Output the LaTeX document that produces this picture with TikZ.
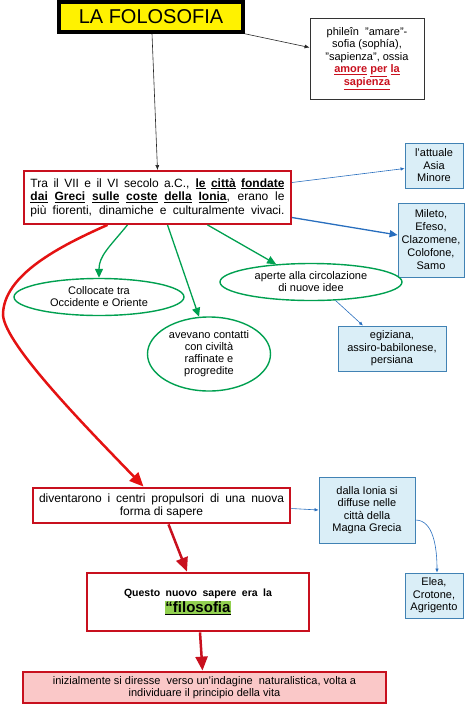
\documentclass[tikz,border=0pt]{standalone}
\usepackage{fontspec}
\setmainfont{Liberation Sans}
\usepackage{tikz}
\usetikzlibrary{arrows.meta,shapes.geometric}
\definecolor{boxred}{RGB}{200,16,30}
\definecolor{brightred}{RGB}{228,18,18}
\definecolor{boxblue}{RGB}{65,130,180}
\definecolor{arrblue}{RGB}{40,110,190}
\definecolor{lightblue}{RGB}{218,238,247}
\definecolor{arrgreen}{RGB}{0,160,80}
\definecolor{pinkfill}{RGB}{250,200,200}
\definecolor{hlgreen}{RGB}{146,208,80}
\newcommand{\ulb}[1]{\underline{\textbf{#1}}}

\begin{document}
\begin{tikzpicture}[x=1pt,y=-1pt,font=\fontsize{11}{12.5}\selectfont,
  redbox/.style={draw=boxred,line width=2.8pt,fill=white,inner sep=2pt,align=center},
  bluebox/.style={draw=boxblue,fill=lightblue,line width=0.8pt,inner sep=1pt,align=center},
  greenell/.style={ellipse,draw=arrgreen,line width=1.4pt,inner sep=0pt,align=center,font=\fontsize{11}{12}\selectfont},
  blkarr/.style={draw=black!85,line width=0.6pt,-{Latex[length=5pt,width=4pt]}},
  bluearr/.style={draw=arrblue,line width=0.6pt,-{Latex[length=4pt,width=3.5pt]}},
  greenarr/.style={draw=arrgreen,line width=1.3pt,-{Triangle[length=9pt,width=8pt]}},
  redarr/.style={draw=boxred,line width=2.5pt,-{Triangle[length=14pt,width=12pt]}}]
\useasboundingbox (0,0) rectangle (474,705);

\node[draw=black,line width=3.5pt,fill=yellow,minimum width=184pt,minimum height=30pt,font=\fontsize{20}{24}\selectfont] (title) at (151,17) {LA FOLOSOFIA};
\node[draw=black!80,line width=0.8pt,minimum width=114pt,minimum height=81pt,align=center] (phil) at (367,58.5)
  {phileîn\ \ "amare"-\\sofia (sophía),\\"sapienza", ossia\\\textcolor{boxred}{\textbf{\underline{amore} \underline{per} \underline{la}}}\\\textcolor{boxred}{\textbf{\underline{sapienza}}}};

\node[redbox,line width=1.8pt,minimum width=267pt,minimum height=53pt,align=left,font=\fontsize{12}{13.5}\selectfont] (main) at (157.5,197.5)
  {\makebox[254pt][s]{Tra il VII e il VI secolo a.C., \ulb{le} \ulb{città} \ulb{fondate}}\\
   \makebox[254pt][s]{\ulb{dai} \ulb{Greci} \ulb{sulle} \ulb{coste} \ulb{della} \ulb{Ionia}, erano le}\\
   \makebox[254pt][s]{più fiorenti, dinamiche e culturalmente vivaci.}};

\node[bluebox,minimum width=58pt,minimum height=45pt] (asia) at (434,165.5) {l'attuale\\Asia\\Minore};
\node[bluebox,minimum width=66pt,minimum height=74pt,font=\fontsize{11}{13}\selectfont] (mile) at (431,240) {Mileto,\\Efeso,\\Clazomene,\\Colofone,\\Samo};

\node[greenell,minimum width=170pt,minimum height=37pt] (coll) at (99,297) {Collocate tra\\Occidente e Oriente};
\node[greenell,minimum width=123pt,minimum height=74pt] (avev) at (209,354) {avevano contatti\\con civiltà\\raffinate e\\progredite};
\node[greenell,minimum width=182pt,minimum height=37pt] (aper) at (311,282) {aperte alla circolazione\\di nuove idee};
\node[bluebox,minimum width=108pt,minimum height=45pt] (egiz) at (392,348.5) {egiziana,\\assiro-babilonese,\\persiana};

\node[redbox,minimum width=257pt,minimum height=35pt,font=\fontsize{12}{13}\selectfont] (dive) at (161.5,505.5)
  {\makebox[245pt][s]{diventarono i centri propulsori di una nuova}\\forma di sapere};
\node[bluebox,minimum width=96pt,minimum height=66pt] (ionia) at (367,510) {dalla Ionia si\\diffuse nelle\\città della\\Magna Grecia};
\node[bluebox,minimum width=58pt,minimum height=45pt] (elea) at (434,595.5) {Elea,\\Crotone,\\Agrigento};

\node[redbox,minimum width=222pt,minimum height=58pt] (quest) at (198,602)
  {\makebox[148pt][s]{\bfseries\fontsize{10.5}{12}\selectfont Questo nuovo sapere era la}\\[1pt]
   {\fontsize{15}{18}\selectfont\bfseries\fboxsep=0.5pt\colorbox{hlgreen}{\underline{“filosofia}}}};
\node[redbox,fill=pinkfill,minimum width=363pt,minimum height=31pt] (ini) at (204.5,687.5)
  {inizialmente si diresse\ \ verso un'indagine\ \ naturalistica, volta a\\individuare il principio della vita};

\draw[blkarr] (title.south east) -- ([yshift=11pt]phil.west);
\draw[blkarr] ([xshift=1pt]title.south) -- (main.north);
\draw[bluearr] ([yshift=15pt]main.east) -- ([yshift=-3pt]asia.west);
\draw[bluearr,line width=1.3pt,-{Triangle[length=8pt,width=7pt]}] ([yshift=-20pt]main.east) -- ([yshift=5pt]mile.west);
\draw[greenarr] ([xshift=-30pt]main.south) .. controls +(-18,22) and +(0,-22) .. (coll.north);
\draw[greenarr] ([xshift=10pt]main.south) -- (avev.105);
\draw[greenarr] ([xshift=50pt]main.south) -- (aper.153);
\draw[bluearr] (aper.-37) -- ([xshift=-29pt]egiz.north);
\draw[redarr,draw=brightred] ([xshift=-50pt]main.south) .. controls (60,246) and (3,275) .. (3,315)
  .. controls (5,345) and (88,429) .. ([xshift=-18pt]dive.north);
\draw[bluearr] ([yshift=-3pt]dive.east) -- (ionia.west);
\draw[bluearr] ([yshift=-10pt]ionia.east) .. controls +(18,0) and +(0,-25) .. ([xshift=3pt]elea.north);
\draw[redarr] ([xshift=7pt]dive.south) -- ([xshift=-11pt]quest.north);
\draw[redarr] ([xshift=2pt]quest.south) -- ([xshift=-2pt]ini.north);
\end{tikzpicture}
\end{document}
